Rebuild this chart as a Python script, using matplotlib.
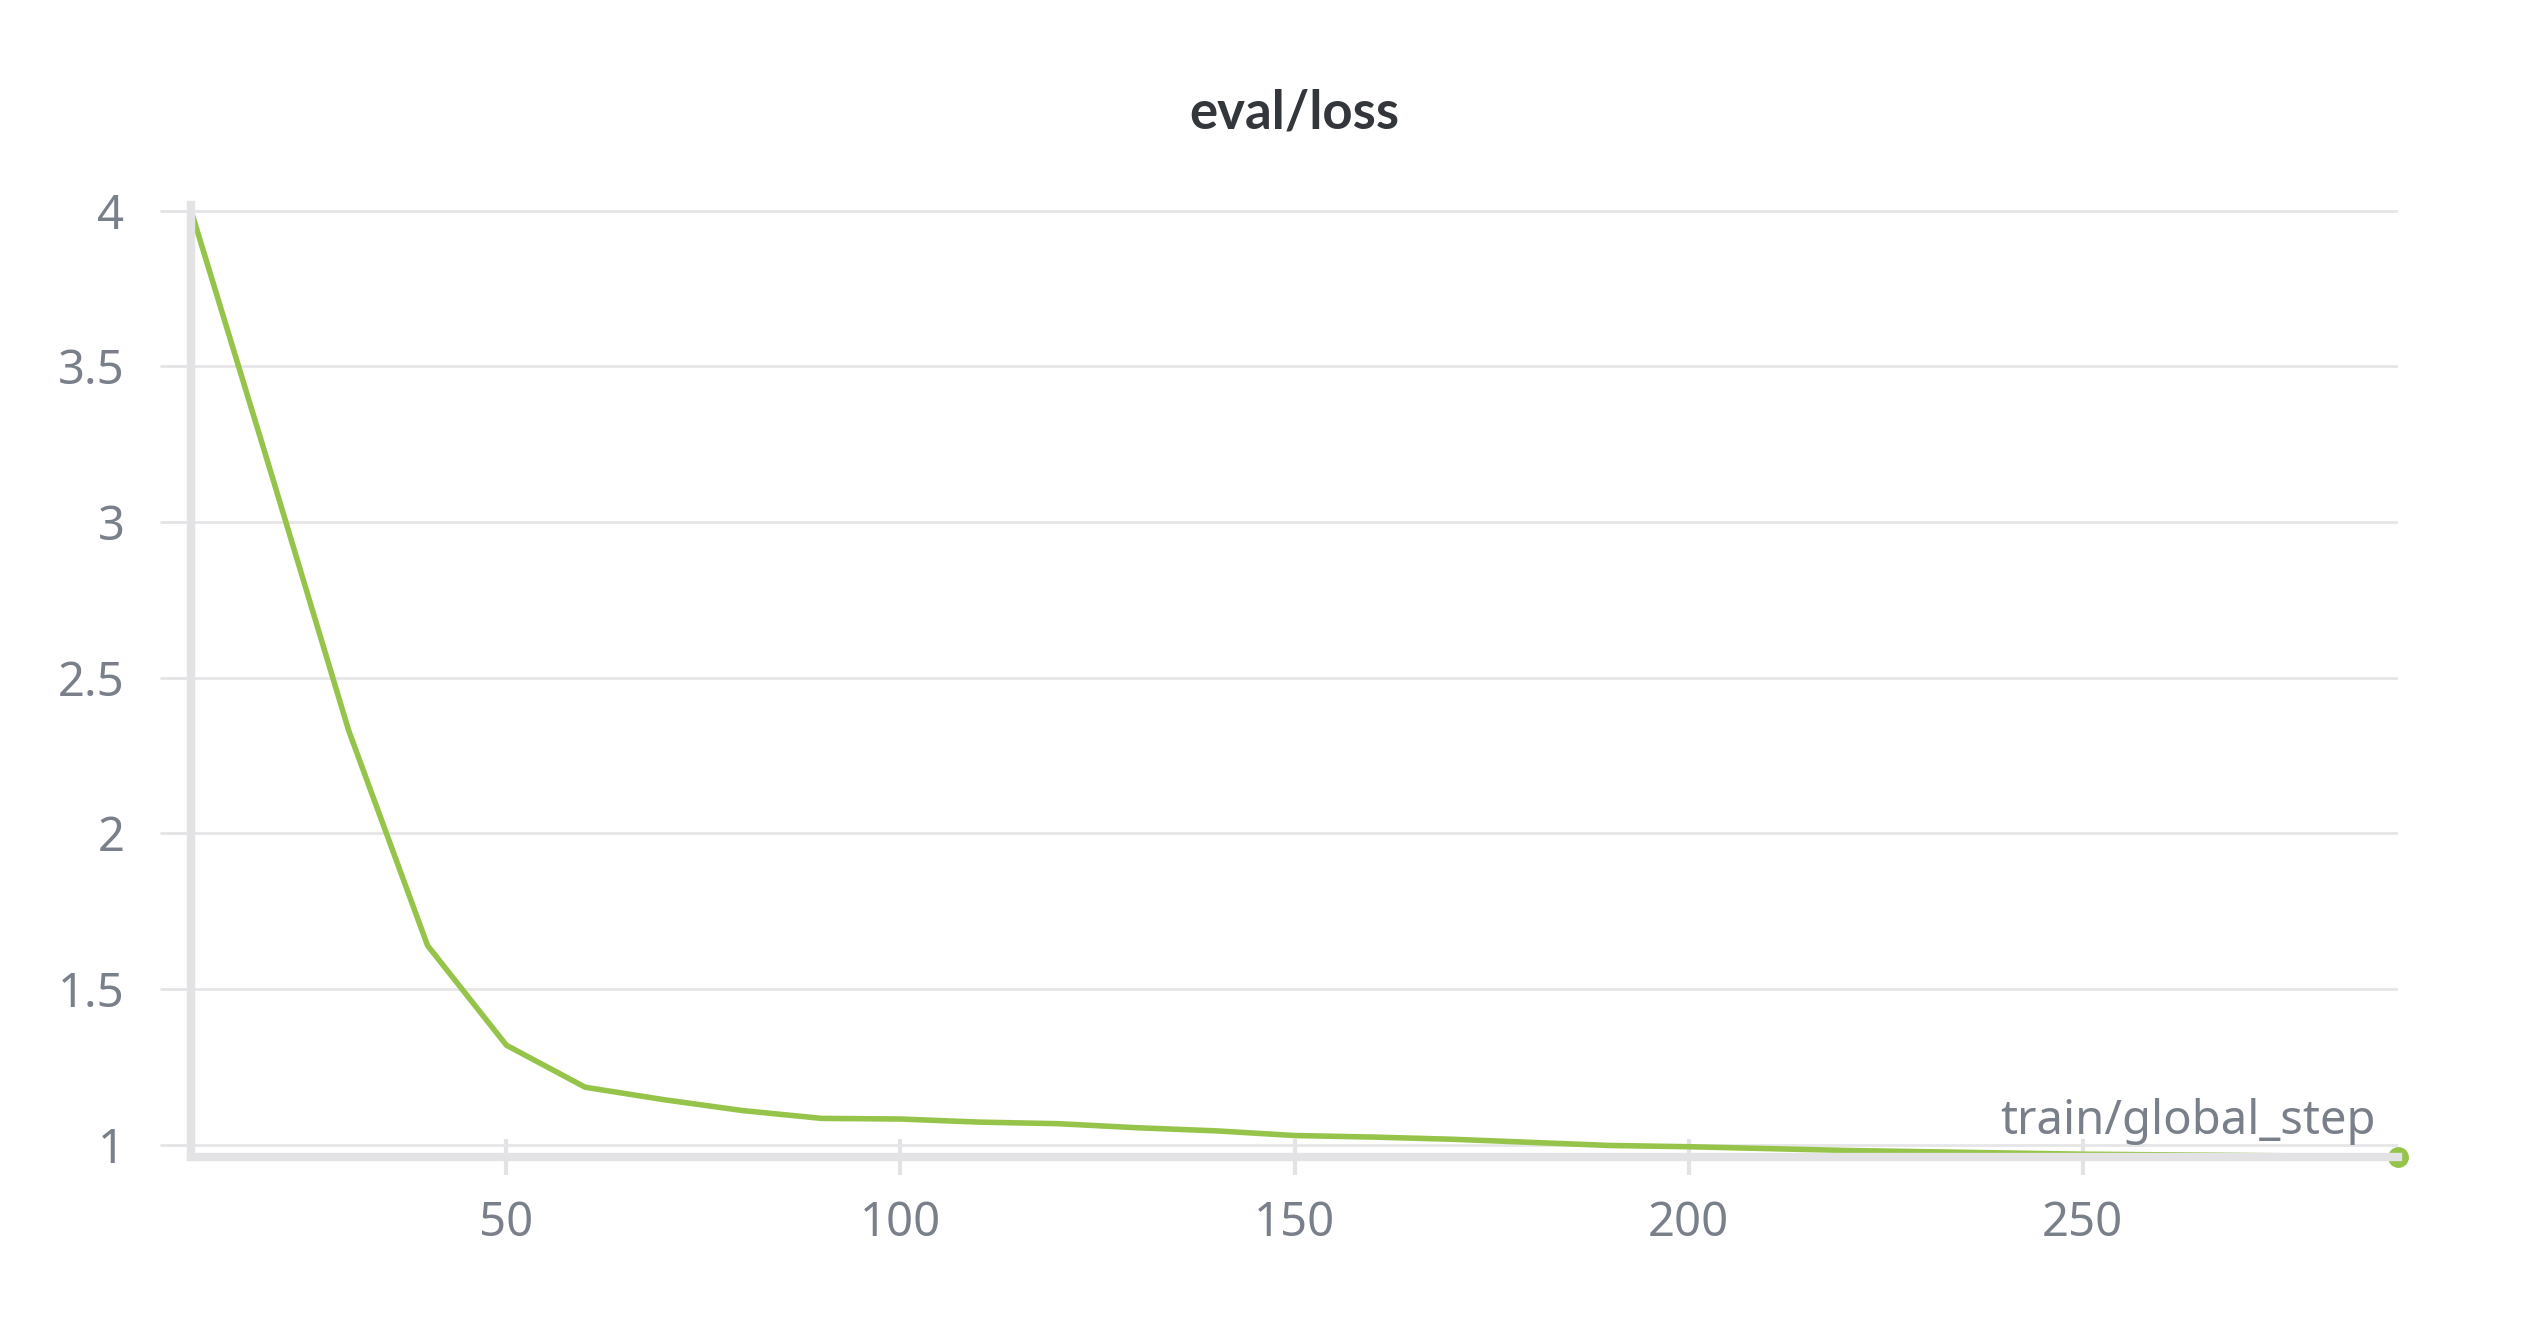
import matplotlib.pyplot as plt

steps = [10, 20, 30, 40, 50, 60, 70, 80, 90, 100, 110, 120, 130, 140, 150,
         160, 170, 180, 190, 200, 210, 220, 230, 240, 250, 260, 270, 280, 290]
loss = [4.0, 3.17, 2.33, 1.64, 1.32, 1.185, 1.145, 1.11, 1.085, 1.083, 1.073,
        1.068, 1.055, 1.045, 1.03, 1.025, 1.018, 1.008, 0.998, 0.994, 0.988,
        0.982, 0.978, 0.974, 0.97, 0.968, 0.966, 0.964, 0.962]
yticks = [1, 1.5, 2, 2.5, 3, 3.5, 4]
yticklabels = ['1', '1.5', '2', '2.5', '3', '3.5', '4']
xticks = [50, 100, 150, 200, 250]

plt.rcParams['font.family'] = ['Noto Sans', 'DejaVu Sans']
grey = '#7a808a'
fig = plt.figure(figsize=(25.28, 13.28), dpi=100)
ax = fig.add_axes([0.0756, 0.129, 0.873, 0.717])

ax.plot(steps, loss, color='#96c44a', lw=4, solid_joinstyle='round')
ax.plot([steps[-1]], [loss[-1]], 'o', color='#96c44a', ms=14, clip_on=False)

ax.set_xlim(10, 290)
ax.set_ylim(0.962, 4.02)
ax.set_yticks(yticks, yticklabels)
ax.set_xticks(xticks)
ax.grid(axis='y', color='#e6e6e8', lw=2)
for s in ['top', 'right']:
    ax.spines[s].set_visible(False)
for s in ['left', 'bottom']:
    ax.spines[s].set_color('#e3e3e6')
    ax.spines[s].set_linewidth(6)
ax.tick_params(axis='y', length=22, width=2, color='#e3e3e6', labelsize=34,
               labelcolor=grey, pad=26)
ax.tick_params(axis='x', length=26, width=3, color='#e3e3e6', labelsize=34,
               labelcolor=grey, pad=18, direction='inout')
ax.text(0.99, 0.012, 'train/global_step', transform=ax.transAxes, ha='right',
        va='bottom', fontsize=34, color=grey)
ax.set_title('eval/loss', fontsize=38, fontweight='bold', color='#33363b', pad=55,
             family=['Lato', 'DejaVu Sans'])

fig.savefig('out.png', dpi=100)
